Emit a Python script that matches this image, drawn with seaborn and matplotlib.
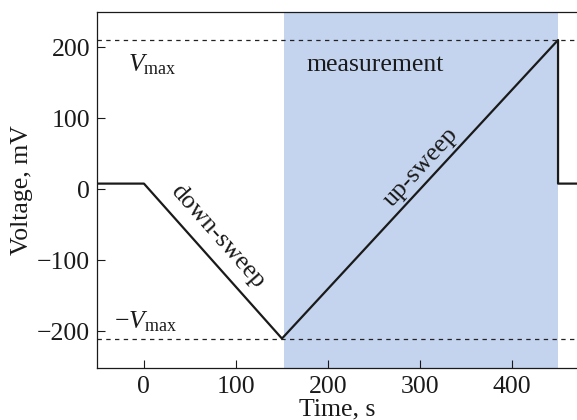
import matplotlib
matplotlib.use("Agg")
import matplotlib.pyplot as plt
import seaborn as sns
import pandas as pd

# Data
time_s = [-60, 0, 150, 450, 450, 480]
voltage_mV = [8, 8, -210, 210, 8, 8]
v_max = 210
measure_start, measure_end = 152, 450
x_ticks = [0, 100, 200, 300, 400]
y_ticks = [-200, -100, 0, 100, 200]

sns.set_theme(style="ticks")
plt.rcParams['font.family'] = ['Liberation Serif', 'DejaVu Serif']
plt.rcParams['mathtext.fontset'] = 'custom'
plt.rcParams['mathtext.rm'] = 'Liberation Serif'
plt.rcParams['mathtext.it'] = 'Liberation Serif:italic'

fig = plt.figure(figsize=(5.77, 4.2), dpi=100)
ax = fig.add_axes([97/577, (420-367.7)/420, (577-97)/577, (367.7-12.3)/420])

ax.axvspan(measure_start, measure_end, color="#c4d4ee", lw=0, zorder=0)
ax.axhline(v_max, color="#222222", lw=0.9, ls=(0, (3.5, 3.5)), zorder=1)
ax.axhline(-v_max, color="#222222", lw=0.9, ls=(0, (3.5, 3.5)), zorder=1)

df = pd.DataFrame({"t": time_s, "v": voltage_mV})
sns.lineplot(data=df, x="t", y="v", sort=False, estimator=None,
             color="#1a1a1a", lw=1.6, ax=ax, zorder=3)

fs = 18.5
ax.set_xlim(-51, 470.6)
ax.set_ylim(-251, 249)
ax.set_xticks(x_ticks)
ax.set_yticks(y_ticks)
ax.tick_params(direction="in", length=6, width=0.8, labelsize=fs, colors="#1a1a1a")
ax.tick_params(axis="x", pad=6)
ax.tick_params(axis="y", pad=5)
for s in ["left", "top", "bottom"]:
    ax.spines[s].set_linewidth(0.9)
    ax.spines[s].set_color("#1a1a1a")
ax.spines["right"].set_visible(False)

ax.set_xlabel("Time, s", fontsize=fs, labelpad=0, color="#1a1a1a")
ax.set_ylabel("Voltage, mV", fontsize=fs, labelpad=3, color="#1a1a1a")

ax.text(-17.5, 175, r"$V_{\mathrm{max}}$", fontsize=fs, ha="left", va="center", color="#1a1a1a")
ax.text(-32, -186, r"$-V_{\mathrm{max}}$", fontsize=fs, ha="left", va="center", color="#1a1a1a")
ax.text(177, 175, "measurement", fontsize=fs, ha="left", va="center", color="#1a1a1a")
ax.text(80, -66, "down-sweep", fontsize=fs, ha="center", va="center", rotation=-48.5,
        rotation_mode="anchor", color="#1a1a1a")
ax.text(301, 31, "up-sweep", fontsize=fs, ha="center", va="center", rotation=47.4,
        rotation_mode="anchor", color="#1a1a1a")

fig.savefig("out.png", dpi=100)
